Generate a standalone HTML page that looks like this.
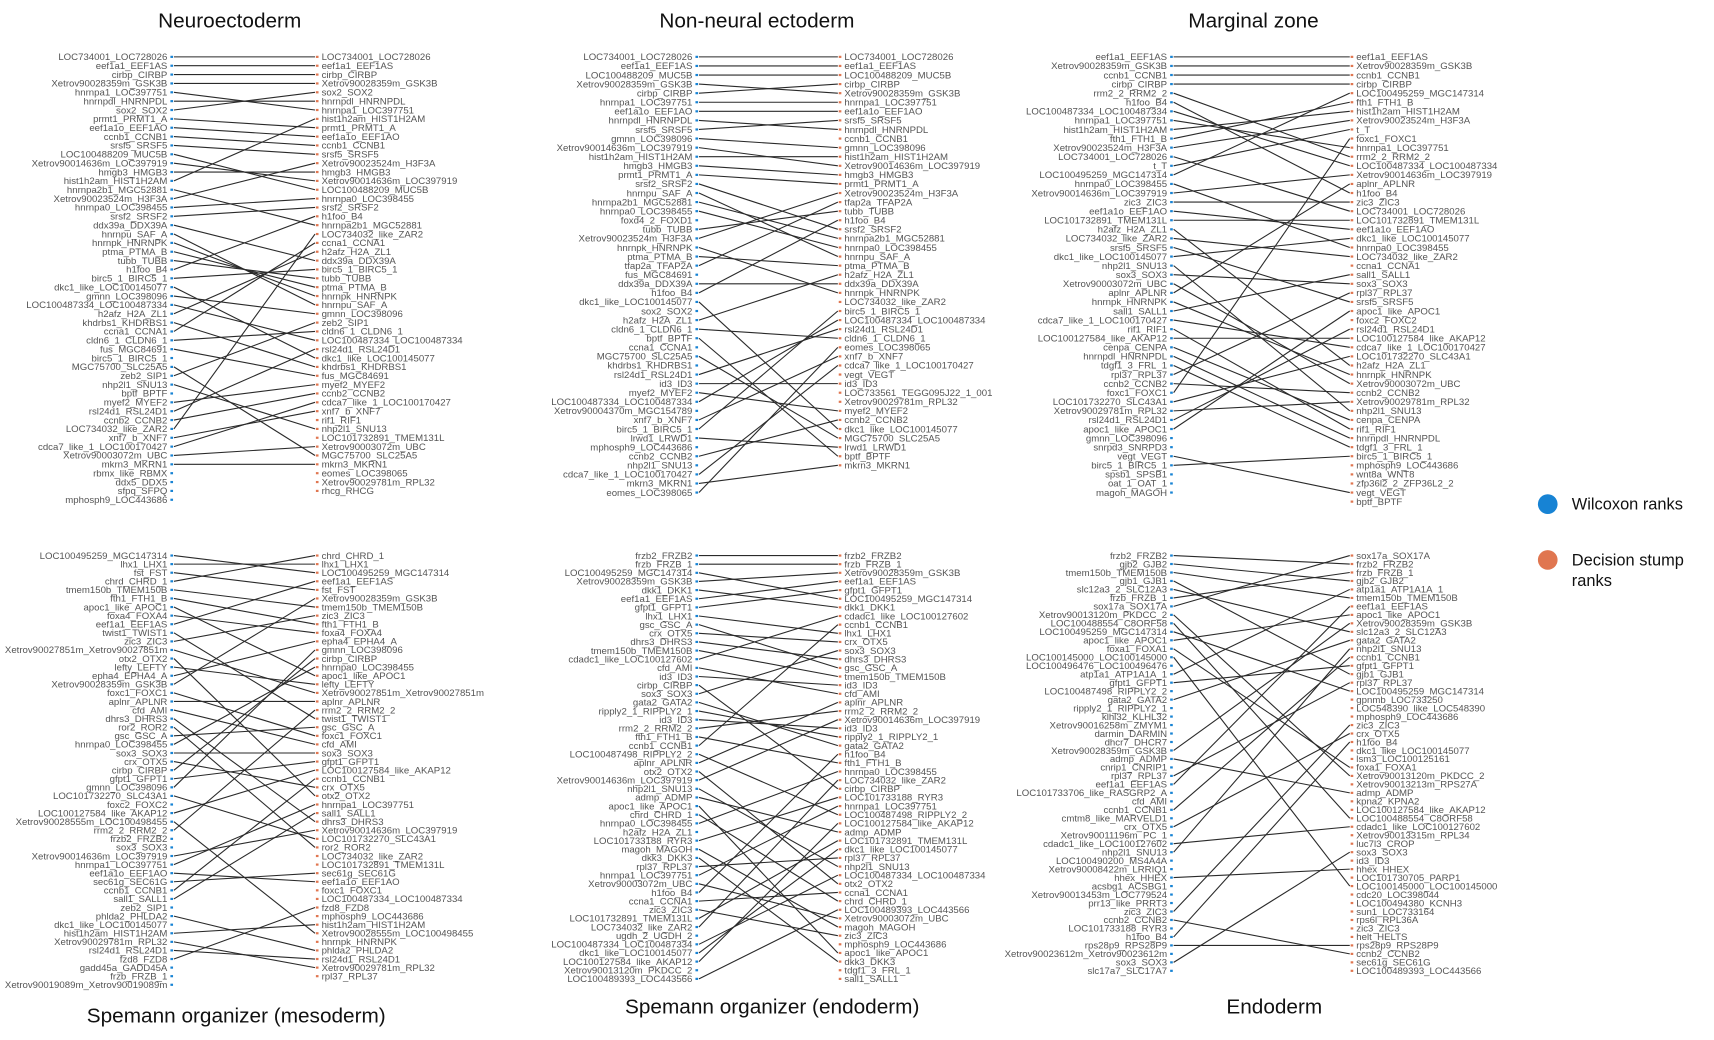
<!DOCTYPE html>
<html><head><meta charset="utf-8">
<style>
html,body{margin:0;padding:0;background:#fff;}
svg{display:block;font-family:"Liberation Sans",sans-serif;}
</style></head>
<body>
<svg id="s" width="1714" height="1040" viewBox="0 0 1567 951" preserveAspectRatio="none" xmlns="http://www.w3.org/2000/svg">
<rect width="1567" height="951" fill="#fff"/>
<g font-size="19" fill="#111" text-anchor="middle">
<text x="210" y="25">Neuroectoderm</text>
<text x="692" y="25">Non-neural ectoderm</text>
<text x="1146" y="25">Marginal zone</text>
<text x="216" y="935">Spemann organizer (mesoderm)</text>
<text x="706" y="927">Spemann organizer (endoderm)</text>
<text x="1165" y="927">Endoderm</text>
</g>
<circle cx="1415" cy="461" r="9" fill="#1783d4"/>
<text x="1437" y="466" font-size="15" fill="#111">Wilcoxon ranks</text>
<circle cx="1415" cy="512" r="9" fill="#e07650"/>
<text x="1437" y="517" font-size="15" fill="#111">Decision stump</text>
<text x="1437" y="536" font-size="15" fill="#111">ranks</text>
<g id="g"></g>
</svg>
<script>
var P=[
{lx:157,rx:290,top:52,sp:8.1,
L:"LOC734001_LOC728026 eef1a1_EEF1AS cirbp_CIRBP Xetrov90028359m_GSK3B hnrnpa1_LOC397751 hnrnpdl_HNRNPDL sox2_SOX2 prmt1_PRMT1_A eef1a1o_EEF1AO ccnb1_CCNB1 srsf5_SRSF5 LOC100488209_MUC5B Xetrov90014636m_LOC397919 hmgb3_HMGB3 hist1h2am_HIST1H2AM hnrnpa2b1_MGC52881 Xetrov90023524m_H3F3A hnrnpa0_LOC398455 srsf2_SRSF2 ddx39a_DDX39A hnrnpu_SAF_A hnrnpk_HNRNPK ptma_PTMA_B tubb_TUBB h1foo_B4 birc5_1_BIRC5_1 dkc1_like_LOC100145077 gmnn_LOC398096 LOC100487334_LOC100487334 h2afz_H2A_ZL1 khdrbs1_KHDRBS1 ccna1_CCNA1 cldn6_1_CLDN6_1 fus_MGC84691 birc5_1_BIRC5_1 MGC75700_SLC25A5 zeb2_SIP1 nhp2l1_SNU13 bptf_BPTF myef2_MYEF2 rsl24d1_RSL24D1 ccnb2_CCNB2 LOC734032_like_ZAR2 xnf7_b_XNF7 cdca7_like_1_LOC100170427 Xetrov90003072m_UBC mkrn3_MKRN1 rbmx_like_RBMX ddx5_DDX5 sfpq_SFPQ mphosph9_LOC443686",
R:"LOC734001_LOC728026 eef1a1_EEF1AS cirbp_CIRBP Xetrov90028359m_GSK3B sox2_SOX2 hnrnpdl_HNRNPDL hnrnpa1_LOC397751 hist1h2am_HIST1H2AM prmt1_PRMT1_A eef1a1o_EEF1AO ccnb1_CCNB1 srsf5_SRSF5 Xetrov90023524m_H3F3A hmgb3_HMGB3 Xetrov90014636m_LOC397919 LOC100488209_MUC5B hnrnpa0_LOC398455 srsf2_SRSF2 h1foo_B4 hnrnpa2b1_MGC52881 LOC734032_like_ZAR2 ccna1_CCNA1 h2afz_H2A_ZL1 ddx39a_DDX39A birc5_1_BIRC5_1 tubb_TUBB ptma_PTMA_B hnrnpk_HNRNPK hnrnpu_SAF_A gmnn_LOC398096 zeb2_SIP1 cldn6_1_CLDN6_1 LOC100487334_LOC100487334 rsl24d1_RSL24D1 dkc1_like_LOC100145077 khdrbs1_KHDRBS1 fus_MGC84691 myef2_MYEF2 ccnb2_CCNB2 cdca7_like_1_LOC100170427 xnf7_b_XNF7 rif1_RIF1 nhp2l1_SNU13 LOC101732891_TMEM131L Xetrov90003072m_UBC MGC75700_SLC25A5 mkrn3_MKRN1 eomes_LOC398065 Xetrov90029781m_RPL32 rhcg_RHCG"},
{lx:637,rx:768,top:52,sp:8.3,
L:"LOC734001_LOC728026 eef1a1_EEF1AS LOC100488209_MUC5B Xetrov90028359m_GSK3B cirbp_CIRBP hnrnpa1_LOC397751 eef1a1o_EEF1AO hnrnpdl_HNRNPDL srsf5_SRSF5 gmnn_LOC398096 Xetrov90014636m_LOC397919 hist1h2am_HIST1H2AM hmgb3_HMGB3 prmt1_PRMT1_A srsf2_SRSF2 hnrnpu_SAF_A hnrnpa2b1_MGC52881 hnrnpa0_LOC398455 foxd4_2_FOXD1 tubb_TUBB Xetrov90023524m_H3F3A hnrnpk_HNRNPK ptma_PTMA_B tfap2a_TFAP2A fus_MGC84691 ddx39a_DDX39A h1foo_B4 dkc1_like_LOC100145077 sox2_SOX2 h2afz_H2A_ZL1 cldn6_1_CLDN6_1 bptf_BPTF ccna1_CCNA1 MGC75700_SLC25A5 khdrbs1_KHDRBS1 rsl24d1_RSL24D1 id3_ID3 myef2_MYEF2 LOC100487334_LOC100487334 Xetrov90004370m_MGC154789 xnf7_b_XNF7 birc5_1_BIRC5_1 lrwd1_LRWD1 mphosph9_LOC443686 ccnb2_CCNB2 nhp2l1_SNU13 cdca7_like_1_LOC100170427 mkrn3_MKRN1 eomes_LOC398065",
R:"LOC734001_LOC728026 eef1a1_EEF1AS LOC100488209_MUC5B cirbp_CIRBP Xetrov90028359m_GSK3B hnrnpa1_LOC397751 eef1a1o_EEF1AO srsf5_SRSF5 hnrnpdl_HNRNPDL ccnb1_CCNB1 gmnn_LOC398096 hist1h2am_HIST1H2AM Xetrov90014636m_LOC397919 hmgb3_HMGB3 prmt1_PRMT1_A Xetrov90023524m_H3F3A tfap2a_TFAP2A tubb_TUBB h1foo_B4 srsf2_SRSF2 hnrnpa2b1_MGC52881 hnrnpa0_LOC398455 hnrnpu_SAF_A ptma_PTMA_B h2afz_H2A_ZL1 ddx39a_DDX39A hnrnpk_HNRNPK LOC734032_like_ZAR2 birc5_1_BIRC5_1 LOC100487334_LOC100487334 rsl24d1_RSL24D1 cldn6_1_CLDN6_1 eomes_LOC398065 xnf7_b_XNF7 cdca7_like_1_LOC100170427 vegt_VEGT id3_ID3 LOC733561_TEGG095J22_1_001 Xetrov90029781m_RPL32 myef2_MYEF2 ccnb2_CCNB2 dkc1_like_LOC100145077 MGC75700_SLC25A5 lrwd1_LRWD1 bptf_BPTF mkrn3_MKRN1"},
{lx:1071,rx:1236,top:52,sp:8.3,
L:"eef1a1_EEF1AS Xetrov90028359m_GSK3B ccnb1_CCNB1 cirbp_CIRBP rrm2_2_RRM2_2 h1foo_B4 LOC100487334_LOC100487334 hnrnpa1_LOC397751 hist1h2am_HIST1H2AM fth1_FTH1_B Xetrov90023524m_H3F3A LOC734001_LOC728026 t_T LOC100495259_MGC147314 hnrnpa0_LOC398455 Xetrov90014636m_LOC397919 zic3_ZIC3 eef1a1o_EEF1AO LOC101732891_TMEM131L h2afz_H2A_ZL1 LOC734032_like_ZAR2 srsf5_SRSF5 dkc1_like_LOC100145077 nhp2l1_SNU13 sox3_SOX3 Xetrov90003072m_UBC aplnr_APLNR hnrnpk_HNRNPK sall1_SALL1 cdca7_like_1_LOC100170427 rif1_RIF1 LOC100127584_like_AKAP12 cenpa_CENPA hnrnpdl_HNRNPDL tdgf1_3_FRL_1 rpl37_RPL37 ccnb2_CCNB2 foxc1_FOXC1 LOC101732270_SLC43A1 Xetrov90029781m_RPL32 rsl24d1_RSL24D1 apoc1_like_APOC1 gmnn_LOC398096 snrpd3_SNRPD3 vegt_VEGT birc5_1_BIRC5_1 spsb1_SPSB1 oat_1_OAT_1 magoh_MAGOH",
R:"eef1a1_EEF1AS Xetrov90028359m_GSK3B ccnb1_CCNB1 cirbp_CIRBP LOC100495259_MGC147314 fth1_FTH1_B hist1h2am_HIST1H2AM Xetrov90023524m_H3F3A t_T foxc1_FOXC1 hnrnpa1_LOC397751 rrm2_2_RRM2_2 LOC100487334_LOC100487334 Xetrov90014636m_LOC397919 aplnr_APLNR h1foo_B4 zic3_ZIC3 LOC734001_LOC728026 LOC101732891_TMEM131L eef1a1o_EEF1AO dkc1_like_LOC100145077 hnrnpa0_LOC398455 LOC734032_like_ZAR2 ccna1_CCNA1 sall1_SALL1 sox3_SOX3 rpl37_RPL37 srsf5_SRSF5 apoc1_like_APOC1 foxc2_FOXC2 rsl24d1_RSL24D1 LOC100127584_like_AKAP12 cdca7_like_1_LOC100170427 LOC101732270_SLC43A1 h2afz_H2A_ZL1 hnrnpk_HNRNPK Xetrov90003072m_UBC ccnb2_CCNB2 Xetrov90029781m_RPL32 nhp2l1_SNU13 cenpa_CENPA rif1_RIF1 hnrnpdl_HNRNPDL tdgf1_3_FRL_1 birc5_1_BIRC5_1 mphosph9_LOC443686 wnt8a_WNT8 zfp36l2_2_ZFP36L2_2 vegt_VEGT bptf_BPTF"},
{lx:157,rx:290,top:508,sp:7.85,
L:"LOC100495259_MGC147314 lhx1_LHX1 fst_FST chrd_CHRD_1 tmem150b_TMEM150B fth1_FTH1_B apoc1_like_APOC1 foxa4_FOXA4 eef1a1_EEF1AS twist1_TWIST1 zic3_ZIC3 Xetrov90027851m_Xetrov90027851m otx2_OTX2 lefty_LEFTY epha4_EPHA4_A Xetrov90028359m_GSK3B foxc1_FOXC1 aplnr_APLNR cfd_AMI dhrs3_DHRS3 ror2_ROR2 gsc_GSC_A hnrnpa0_LOC398455 sox3_SOX3 crx_OTX5 cirbp_CIRBP gfpt1_GFPT1 gmnn_LOC398096 LOC101732270_SLC43A1 foxc2_FOXC2 LOC100127584_like_AKAP12 Xetrov90028555m_LOC100498455 rrm2_2_RRM2_2 frzb2_FRZB2 sox3_SOX3 Xetrov90014636m_LOC397919 hnrnpa1_LOC397751 eef1a1o_EEF1AO sec61g_SEC61G ccnb1_CCNB1 sall1_SALL1 zeb2_SIP1 phlda2_PHLDA2 dkc1_like_LOC100145077 hist1h2am_HIST1H2AM Xetrov90029781m_RPL32 rsl24d1_RSL24D1 fzd8_FZD8 gadd45a_GADD45A frzb_FRZB_1 Xetrov90019089m_Xetrov90019089m",
R:"chrd_CHRD_1 lhx1_LHX1 LOC100495259_MGC147314 eef1a1_EEF1AS fst_FST Xetrov90028359m_GSK3B tmem150b_TMEM150B zic3_ZIC3 fth1_FTH1_B foxa4_FOXA4 epha4_EPHA4_A gmnn_LOC398096 cirbp_CIRBP hnrnpa0_LOC398455 apoc1_like_APOC1 lefty_LEFTY Xetrov90027851m_Xetrov90027851m aplnr_APLNR rrm2_2_RRM2_2 twist1_TWIST1 gsc_GSC_A foxc1_FOXC1 cfd_AMI sox3_SOX3 gfpt1_GFPT1 LOC100127584_like_AKAP12 ccnb1_CCNB1 crx_OTX5 otx2_OTX2 hnrnpa1_LOC397751 sall1_SALL1 dhrs3_DHRS3 Xetrov90014636m_LOC397919 LOC101732270_SLC43A1 ror2_ROR2 LOC734032_like_ZAR2 LOC101732891_TMEM131L sec61g_SEC61G eef1a1o_EEF1AO foxc1_FOXC1 LOC100487334_LOC100487334 fzd8_FZD8 mphosph9_LOC443686 hist1h2am_HIST1H2AM Xetrov90028555m_LOC100498455 hnrnpk_HNRNPK phlda2_PHLDA2 rsl24d1_RSL24D1 Xetrov90029781m_RPL32 rpl37_RPL37"},
{lx:637,rx:768,top:508,sp:7.9,
L:"frzb2_FRZB2 frzb_FRZB_1 LOC100495259_MGC147314 Xetrov90028359m_GSK3B dkk1_DKK1 eef1a1_EEF1AS gfpt1_GFPT1 lhx1_LHX1 gsc_GSC_A crx_OTX5 dhrs3_DHRS3 tmem150b_TMEM150B cdadc1_like_LOC100127602 cfd_AMI id3_ID3 cirbp_CIRBP sox3_SOX3 gata2_GATA2 ripply2_1_RIPPLY2_1 id3_ID3 rrm2_2_RRM2_2 fth1_FTH1_B ccnb1_CCNB1 LOC100487498_RIPPLY2_2 aplnr_APLNR otx2_OTX2 Xetrov90014636m_LOC397919 nhp2l1_SNU13 admp_ADMP apoc1_like_APOC1 chrd_CHRD_1 hnrnpa0_LOC398455 h2afz_H2A_ZL1 LOC101733188_RYR3 magoh_MAGOH dkk3_DKK3 rpl37_RPL37 hnrnpa1_LOC397751 Xetrov90003072m_UBC h1foo_B4 ccna1_CCNA1 zic3_ZIC3 LOC101732891_TMEM131L LOC734032_like_ZAR2 ugdh_2_UGDH_2 LOC100487334_LOC100487334 dkc1_like_LOC100145077 LOC100127584_like_AKAP12 Xetrov90013120m_PKDCC_2 LOC100489393_LOC443566",
R:"frzb2_FRZB2 frzb_FRZB_1 Xetrov90028359m_GSK3B eef1a1_EEF1AS gfpt1_GFPT1 LOC100495259_MGC147314 dkk1_DKK1 cdadc1_like_LOC100127602 ccnb1_CCNB1 lhx1_LHX1 crx_OTX5 sox3_SOX3 dhrs3_DHRS3 gsc_GSC_A tmem150b_TMEM150B id3_ID3 cfd_AMI aplnr_APLNR rrm2_2_RRM2_2 Xetrov90014636m_LOC397919 id3_ID3 ripply2_1_RIPPLY2_1 gata2_GATA2 h1foo_B4 fth1_FTH1_B hnrnpa0_LOC398455 LOC734032_like_ZAR2 cirbp_CIRBP LOC101733188_RYR3 hnrnpa1_LOC397751 LOC100487498_RIPPLY2_2 LOC100127584_like_AKAP12 admp_ADMP LOC101732891_TMEM131L dkc1_like_LOC100145077 rpl37_RPL37 nhp2l1_SNU13 LOC100487334_LOC100487334 otx2_OTX2 ccna1_CCNA1 chrd_CHRD_1 LOC100489393_LOC443566 Xetrov90003072m_UBC magoh_MAGOH zic3_ZIC3 mphosph9_LOC443686 apoc1_like_APOC1 dkk3_DKK3 tdgf1_3_FRL_1 sall1_SALL1"},
{lx:1071,rx:1236,top:508,sp:7.75,
L:"frzb2_FRZB2 gjb2_GJB2 tmem150b_TMEM150B gjb1_GJB1 slc12a3_2_SLC12A3 frzb_FRZB_1 sox17a_SOX17A Xetrov90013120m_PKDCC_2 LOC100488554_C8ORF58 LOC100495259_MGC147314 apoc1_like_APOC1 foxa1_FOXA1 LOC100145000_LOC100145000 LOC100496476_LOC100496476 atp1a1_ATP1A1A_1 gfpt1_GFPT1 LOC100487498_RIPPLY2_2 gata2_GATA2 ripply2_1_RIPPLY2_1 klhl32_KLHL32 Xetrov90016258m_ZMYM1 darmin_DARMIN dhcr7_DHCR7 Xetrov90028359m_GSK3B admp_ADMP cnrip1_CNRIP1 rpl37_RPL37 eef1a1_EEF1AS LOC101733706_like_RASGRP2_A cfd_AMI ccnb1_CCNB1 cmtm8_like_MARVELD1 crx_OTX5 Xetrov90011196m_PC_1 cdadc1_like_LOC100127602 nhp2l1_SNU13 LOC100490200_MS4A4A Xetrov90008422m_LRRIQ1 hhex_HHEX acsbg1_ACSBG1 Xetrov90013453m_LOC779524 prr13_like_PRRT3 zic3_ZIC3 ccnb2_CCNB2 LOC101733188_RYR3 h1foo_B4 rps28p9_RPS28P9 Xetrov90023612m_Xetrov90023612m sox3_SOX3 slc17a7_SLC17A7",
R:"sox17a_SOX17A frzb2_FRZB2 frzb_FRZB_1 gjb2_GJB2 atp1a1_ATP1A1A_1 tmem150b_TMEM150B eef1a1_EEF1AS apoc1_like_APOC1 Xetrov90028359m_GSK3B slc12a3_2_SLC12A3 gata2_GATA2 nhp2l1_SNU13 ccnb1_CCNB1 gfpt1_GFPT1 gjb1_GJB1 rpl37_RPL37 LOC100495259_MGC147314 gpnmb_LOC733250 LOC548390_like_LOC548390 mphosph9_LOC443686 zic3_ZIC3 crx_OTX5 h1foo_B4 dkc1_like_LOC100145077 lsm3_LOC100125161 foxa1_FOXA1 Xetrov90013120m_PKDCC_2 Xetrov90013213m_RPS27A admp_ADMP kpna2_KPNA2 LOC100127584_like_AKAP12 LOC100488554_C8ORF58 cdadc1_like_LOC100127602 Xetrov90013315m_RPL34 luc7l3_CROP sox3_SOX3 id3_ID3 hhex_HHEX LOC101730705_PARP1 LOC100145000_LOC100145000 cdc20_LOC398044 LOC100494380_KCNH3 sun1_LOC733164 rps6l_RPL36A zic3_ZIC3 helt_HELTS rps28p9_RPS28P9 ccnb2_CCNB2 sec61g_SEC61G LOC100489393_LOC443566"}
];
var NS="http://www.w3.org/2000/svg",g=document.getElementById("g"),h="";
P.forEach(function(p){
 var L=p.L.split(" "),R=p.R.split(" "),used={};
 L.forEach(function(n,i){
  var y1=p.top+i*p.sp;
  for(var j=0;j<R.length;j++){ if(R[j]===n && !used[j]){used[j]=1;
   var y2=p.top+j*p.sp;
   h+='<line x1="'+(p.lx+2)+'" y1="'+y1+'" x2="'+(p.rx-2)+'" y2="'+y2+'" stroke="#2a2a2a" stroke-width="1"/>';break;}}
 });
 L.forEach(function(n,i){var y=p.top+i*p.sp;
  h+='<rect x="'+(p.lx-1.2)+'" y="'+(y-1)+'" width="2.4" height="2" fill="#1783d4"/>';
  h+='<text x="'+(p.lx-4)+'" y="'+(y+3)+'" text-anchor="end">'+n+'</text>';});
 R.forEach(function(n,i){var y=p.top+i*p.sp;
  h+='<rect x="'+(p.rx-1.2)+'" y="'+(y-1)+'" width="2.4" height="2" fill="#e07650"/>';
  h+='<text x="'+(p.rx+4)+'" y="'+(y+3)+'">'+n+'</text>';});
});
g.innerHTML='<g font-size="8.8" fill="#555">'+h+'</g>';
</script>
</body></html>
